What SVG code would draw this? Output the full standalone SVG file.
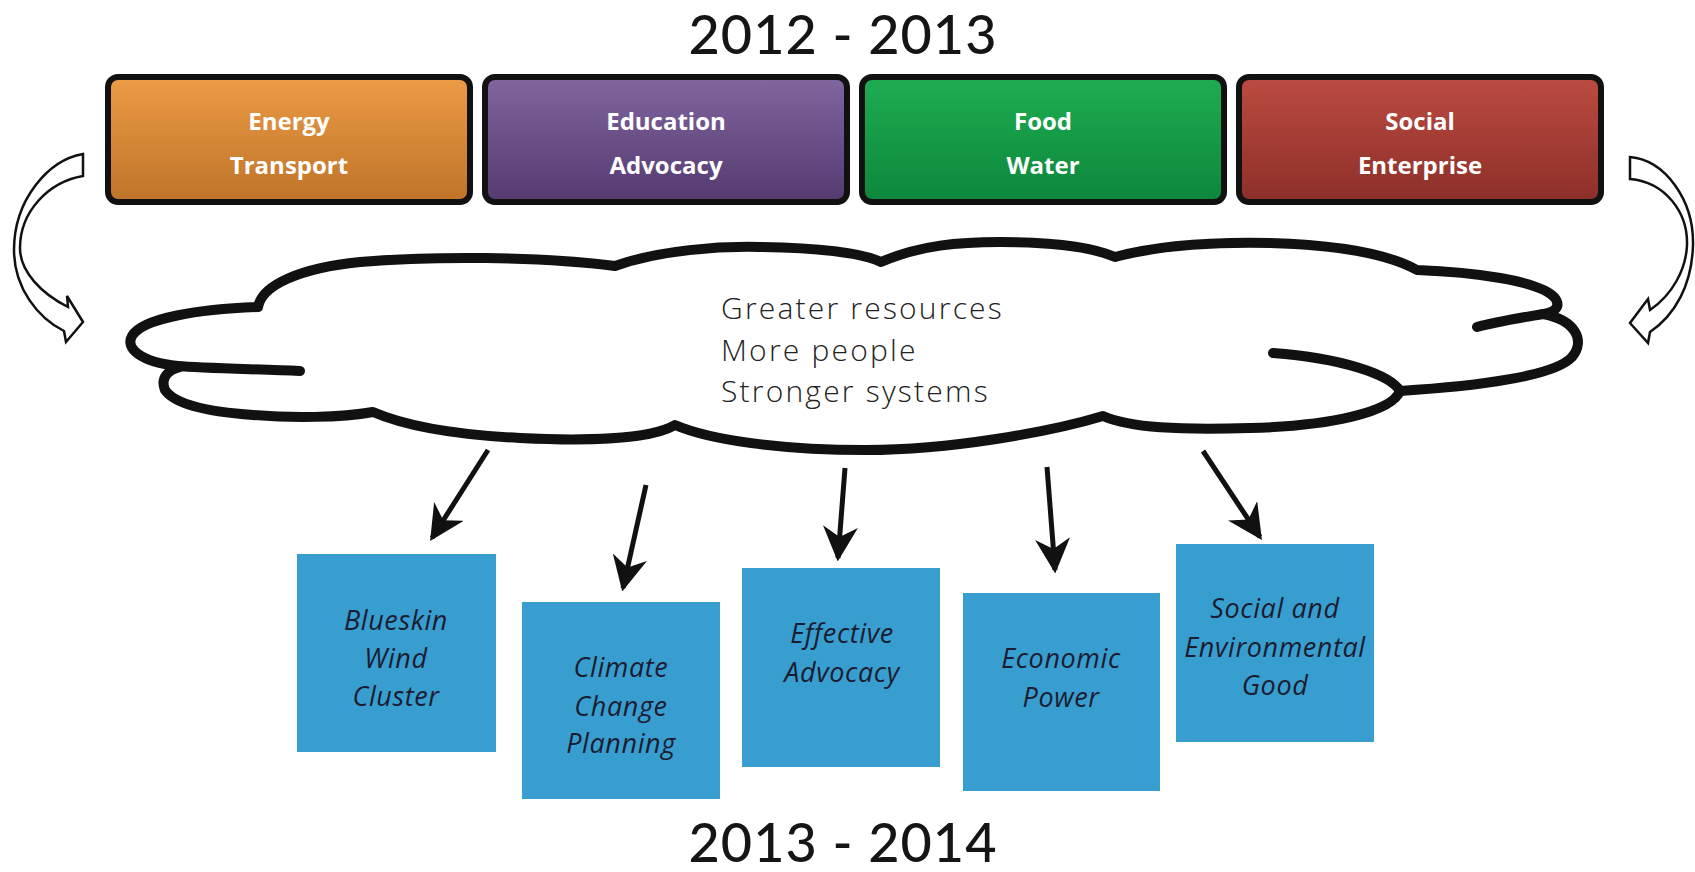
<svg xmlns="http://www.w3.org/2000/svg" width="1695" height="872" viewBox="0 0 1695 872">
<style>
.title{font-family:Lato,"Open Sans",sans-serif;font-size:54px;font-weight:500;fill:#151515;text-anchor:middle;letter-spacing:1px}
.top{stroke:#111;stroke-width:6}
.tt{font-family:"Open Sans","Noto Sans",sans-serif;font-weight:700;font-size:24px;fill:#fff;text-anchor:middle}
.cloud{fill:none;stroke:#111;stroke-width:10;stroke-linecap:round;stroke-linejoin:round}
.ct{font-family:"Open Sans","Lato",sans-serif;font-weight:300;font-size:30px;fill:#222;letter-spacing:2.2px}
.blue{fill:#389ED0}
.bt{font-family:"Open Sans","Noto Sans",sans-serif;font-style:italic;font-size:27px;fill:#1c1c30;text-anchor:middle;letter-spacing:0.6px}
.conn{stroke:#111;stroke-width:5;fill:none;marker-end:url(#ah)}
.hollow{fill:#fff;stroke:#111;stroke-width:2.5;stroke-linejoin:miter}
</style>
<defs>
<linearGradient id="gO" x1="0" y1="0" x2="0" y2="1"><stop offset="0" stop-color="#EC9B46"/><stop offset="1" stop-color="#BF7429"/></linearGradient>
<linearGradient id="gP" x1="0" y1="0" x2="0" y2="1"><stop offset="0" stop-color="#80659F"/><stop offset="1" stop-color="#553A70"/></linearGradient>
<linearGradient id="gG" x1="0" y1="0" x2="0" y2="1"><stop offset="0" stop-color="#1EAD52"/><stop offset="1" stop-color="#0D873B"/></linearGradient>
<linearGradient id="gR" x1="0" y1="0" x2="0" y2="1"><stop offset="0" stop-color="#BC4B41"/><stop offset="1" stop-color="#8C2F29"/></linearGradient>
<marker id="ah" viewBox="0 0 10 10" refX="9" refY="5" markerWidth="7" markerHeight="7" markerUnits="strokeWidth" orient="auto">
<path d="M0,0 L10,5 L0,10 L3,5 Z" fill="#111"/>
</marker>
</defs>
<rect width="1695" height="872" fill="#fff"/>

<text class="title" x="843" y="54">2012 - 2013</text>

<g id="energy-transport">
<rect class="top" x="108" y="77" width="362" height="125" rx="10" fill="url(#gO)"/>
<text class="tt" x="289" y="130">Energy</text>
<text class="tt" x="289" y="174">Transport</text>
</g>
<g id="education-advocacy">
<rect class="top" x="485" y="77" width="362" height="125" rx="10" fill="url(#gP)"/>
<text class="tt" x="666" y="130">Education</text>
<text class="tt" x="666" y="174">Advocacy</text>
</g>
<g id="food-water">
<rect class="top" x="862" y="77" width="362" height="125" rx="10" fill="url(#gG)"/>
<text class="tt" x="1043" y="130">Food</text>
<text class="tt" x="1043" y="174">Water</text>
</g>
<g id="social-enterprise">
<rect class="top" x="1239" y="77" width="362" height="125" rx="10" fill="url(#gR)"/>
<text class="tt" x="1420" y="130">Social</text>
<text class="tt" x="1420" y="174">Enterprise</text>
</g>

<g id="cloud">
<path class="cloud" d="M300,371 C250,369 200,368 178,366 C140,362 125,348 132,336 C142,318 200,309 258,307 C262,285 300,268 360,262 C430,256 540,256 615,266 C660,250 720,246 760,247 C820,248 860,252 881,262 C920,245 960,242 1000,242 C1050,242 1090,246 1115,257 C1160,245 1220,242 1270,243 C1340,245 1390,255 1417,270 C1470,272 1540,280 1555,298 C1562,308 1552,313 1543,314 C1520,318 1495,322 1477,327"/>
<path class="cloud" d="M1543,314 C1575,320 1586,340 1572,357 C1555,376 1480,386 1400,391 C1390,374 1340,358 1273,353"/>
<path class="cloud" d="M1400,391 C1392,412 1330,426 1250,428 C1180,430 1130,428 1103,416 C1050,432 950,450 866,450 C780,450 710,440 675,425 C650,440 580,441 520,438 C460,435 410,428 373,412 C340,418 290,418 253,415 C210,412 175,405 165,390 C160,378 168,370 180,367"/>
<text class="ct" x="721" y="319">Greater resources</text>
<text class="ct" x="721" y="361">More people</text>
<text class="ct" x="721" y="402">Stronger systems</text>
</g>

<g id="loop-arrows">
<path class="hollow" d="M83,154 C48,160 14,200 14,250 C14,288 38,318 64,331 L66,342 L83,322 L67,296 L68,307 C42,294 20,272 20,248 C20,212 48,182 83,176 Z"/>
<path class="hollow" d="M1630,157 C1665,160 1694,200 1693,245 C1692,285 1675,315 1650,332 L1648,343 L1630,323 L1648,299 L1650,310 C1672,295 1686,270 1687,245 C1688,212 1665,182 1630,179 Z"/>
</g>

<g id="connectors">
<line class="conn" x1="488" y1="450" x2="432" y2="538"/>
<line class="conn" x1="646" y1="485" x2="623" y2="588"/>
<line class="conn" x1="845" y1="468" x2="838" y2="558"/>
<line class="conn" x1="1047" y1="467" x2="1055" y2="570"/>
<line class="conn" x1="1203" y1="451" x2="1260" y2="537"/>
</g>

<g id="blueskin">
<rect class="blue" x="297" y="554" width="199" height="198"/>
<text class="bt" x="396" y="630">Blueskin</text>
<text class="bt" x="396" y="668">Wind</text>
<text class="bt" x="396" y="706">Cluster</text>
</g>
<g id="climate">
<rect class="blue" x="522" y="602" width="198" height="197"/>
<text class="bt" x="621" y="677">Climate</text>
<text class="bt" x="621" y="716">Change</text>
<text class="bt" x="621" y="753">Planning</text>
</g>
<g id="effective">
<rect class="blue" x="742" y="568" width="198" height="199"/>
<text class="bt" x="842" y="643">Effective</text>
<text class="bt" x="842" y="682">Advocacy</text>
</g>
<g id="economic">
<rect class="blue" x="963" y="593" width="197" height="198"/>
<text class="bt" x="1061" y="668">Economic</text>
<text class="bt" x="1061" y="707">Power</text>
</g>
<g id="social-env">
<rect class="blue" x="1176" y="544" width="198" height="198"/>
<text class="bt" x="1275" y="618">Social and</text>
<text class="bt" x="1275" y="657">Environmental</text>
<text class="bt" x="1275" y="695">Good</text>
</g>

<text class="title" x="843" y="862">2013 - 2014</text>
</svg>
